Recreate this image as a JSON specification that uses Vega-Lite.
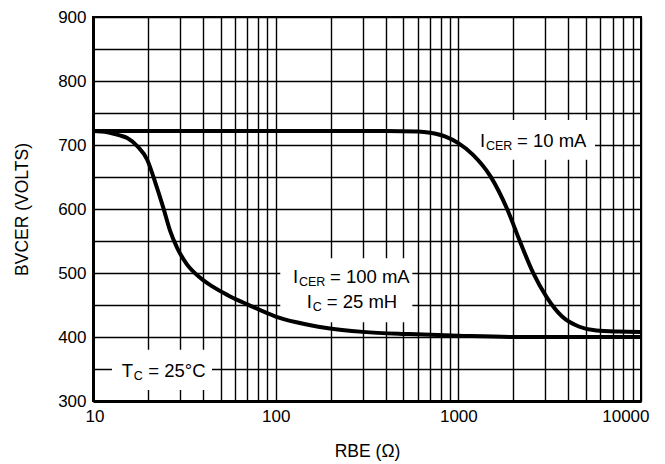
{
  "$schema": "https://vega.github.io/schema/vega-lite/v6.json",
  "width": 548,
  "height": 384,
  "autosize": {"type": "none"},
  "padding": {"left": 93, "top": 17, "right": 24, "bottom": 63},
  "background": "white",
  "config": {
    "view": {"stroke": "black", "strokeWidth": 2},
    "axis": {
      "grid": true, "gridColor": "black", "gridWidth": 1.4, "gridOpacity": 1,
      "ticks": false, "tickSize": 0,
      "domainColor": "black", "domainWidth": 3,
      "labelFont": "Liberation Sans", "labelFontSize": 17, "labelColor": "black",
      "labelPadding": 7, "labelOverlap": false,
      "titleFont": "Liberation Sans", "titleFontSize": 17.5, "titleFontWeight": "normal", "titleColor": "black"
    }
  },
  "datasets": {
    "curves": [
      {"series": "10 mA", "x": 10, "y": 722},
      {"series": "10 mA", "x": 100, "y": 722},
      {"series": "10 mA", "x": 400, "y": 722},
      {"series": "10 mA", "x": 600, "y": 721},
      {"series": "10 mA", "x": 700, "y": 719},
      {"series": "10 mA", "x": 850, "y": 713},
      {"series": "10 mA", "x": 1000, "y": 703},
      {"series": "10 mA", "x": 1200, "y": 685},
      {"series": "10 mA", "x": 1500, "y": 651},
      {"series": "10 mA", "x": 1850, "y": 600},
      {"series": "10 mA", "x": 2170, "y": 550},
      {"series": "10 mA", "x": 2560, "y": 501},
      {"series": "10 mA", "x": 3050, "y": 462},
      {"series": "10 mA", "x": 3700, "y": 432},
      {"series": "10 mA", "x": 4600, "y": 416},
      {"series": "10 mA", "x": 5700, "y": 410},
      {"series": "10 mA", "x": 7500, "y": 408.5},
      {"series": "10 mA", "x": 10000, "y": 408},
      {"series": "100 mA", "x": 10, "y": 722},
      {"series": "100 mA", "x": 12, "y": 720},
      {"series": "100 mA", "x": 14, "y": 715},
      {"series": "100 mA", "x": 15.4, "y": 711},
      {"series": "100 mA", "x": 17.5, "y": 698},
      {"series": "100 mA", "x": 19.8, "y": 677},
      {"series": "100 mA", "x": 22, "y": 640},
      {"series": "100 mA", "x": 24.2, "y": 603},
      {"series": "100 mA", "x": 26.5, "y": 565},
      {"series": "100 mA", "x": 28.8, "y": 540},
      {"series": "100 mA", "x": 32.6, "y": 514},
      {"series": "100 mA", "x": 38.5, "y": 493},
      {"series": "100 mA", "x": 45, "y": 479},
      {"series": "100 mA", "x": 55, "y": 465},
      {"series": "100 mA", "x": 70, "y": 451},
      {"series": "100 mA", "x": 100, "y": 432},
      {"series": "100 mA", "x": 130, "y": 423},
      {"series": "100 mA", "x": 190, "y": 414},
      {"series": "100 mA", "x": 300, "y": 408},
      {"series": "100 mA", "x": 543, "y": 404.5},
      {"series": "100 mA", "x": 1000, "y": 402},
      {"series": "100 mA", "x": 2000, "y": 400},
      {"series": "100 mA", "x": 10000, "y": 400}
    ],
    "boxes": [
      {"x": 1060, "xe": 5600, "y": 677, "ye": 739},
      {"x": 106, "xe": 560, "y": 423, "ye": 523},
      {"x": 12.7, "xe": 44.8, "y": 317, "ye": 380}
    ],
    "ann": [
      {"id": "a", "x": 1314, "y": 697, "p1": "I", "p2": "CER", "p3": "= 10 mA"},
      {"id": "b", "x": 124.4, "y": 484, "p1": "I", "p2": "CER", "p3": "= 100 mA"},
      {"id": "c", "x": 147.9, "y": 445, "p1": "I", "p2": "C", "p3": "= 25 mH"},
      {"id": "d", "x": 14.36, "y": 338, "p1": "T", "p2": "C", "p3": "= 25°C"}
    ]
  },
  "encoding": {
    "x": {
      "field": "x", "type": "quantitative",
      "scale": {"type": "log", "domain": [10, 10000], "nice": false},
      "axis": {
        "title": "RBE (Ω)",
        "values": [10, 20, 30, 40, 50, 60, 70, 80, 90, 100, 200, 300, 400, 500, 600, 700, 800, 900, 1000, 2000, 3000, 4000, 5000, 6000, 7000, 8000, 9000, 10000],
        "format": "d",
        "labelExpr": "(datum.value == 10 || datum.value == 100 || datum.value == 1000 || datum.value == 10000) ? datum.label : ''",
        "labelFlush": true, "labelFlushOffset": 8,
        "titleBaseline": "alphabetic", "titleY": 55
      }
    },
    "y": {
      "field": "y", "type": "quantitative",
      "scale": {"domain": [300, 900], "nice": false},
      "axis": {
        "title": "BVCER  (VOLTS)",
        "values": [300, 350, 400, 450, 500, 550, 600, 650, 700, 750, 800, 850, 900],
        "format": "d",
        "labelExpr": "datum.value % 100 == 0 ? datum.label : ''",
        "titleAngle": -90, "titleAlign": "center", "titleBaseline": "middle",
        "titleX": -71, "titleY": 192
      }
    }
  },
  "layer": [
    {
      "data": {"name": "boxes"},
      "mark": {"type": "rect", "fill": "white", "stroke": null},
      "encoding": {"x2": {"field": "xe"}, "y2": {"field": "ye"}}
    },
    {
      "data": {"name": "curves"},
      "mark": {"type": "line", "stroke": "black", "strokeWidth": 4, "interpolate": "monotone"},
      "encoding": {"detail": {"field": "series"}}
    },
    {
      "data": {"name": "ann"},
      "mark": {"type": "text", "align": "left", "baseline": "alphabetic", "font": "Liberation Sans", "fontSize": 18.5, "fill": "black"},
      "encoding": {"text": {"field": "p1"}}
    },
    {
      "data": {"name": "ann"},
      "transform": [{"filter": "datum.id != 'd'"}],
      "mark": {"type": "text", "align": "left", "baseline": "alphabetic", "dx": 6, "dy": 3, "font": "Liberation Sans", "fontSize": 12.5, "fill": "black"},
      "encoding": {"text": {"field": "p2"}}
    },
    {
      "data": {"name": "ann"},
      "transform": [{"filter": "datum.id == 'd'"}],
      "mark": {"type": "text", "align": "left", "baseline": "alphabetic", "dx": 12, "dy": 3, "font": "Liberation Sans", "fontSize": 12.5, "fill": "black"},
      "encoding": {"text": {"field": "p2"}}
    },
    {
      "data": {"name": "ann"},
      "transform": [{"filter": "datum.id == 'a' || datum.id == 'b'"}],
      "mark": {"type": "text", "align": "left", "baseline": "alphabetic", "dx": 37, "font": "Liberation Sans", "fontSize": 18.5, "fill": "black"},
      "encoding": {"text": {"field": "p3"}}
    },
    {
      "data": {"name": "ann"},
      "transform": [{"filter": "datum.id == 'c'"}],
      "mark": {"type": "text", "align": "left", "baseline": "alphabetic", "dx": 20, "font": "Liberation Sans", "fontSize": 18.5, "fill": "black"},
      "encoding": {"text": {"field": "p3"}}
    },
    {
      "data": {"name": "ann"},
      "transform": [{"filter": "datum.id == 'd'"}],
      "mark": {"type": "text", "align": "left", "baseline": "alphabetic", "dx": 26.5, "font": "Liberation Sans", "fontSize": 18.5, "fill": "black"},
      "encoding": {"text": {"field": "p3"}}
    }
  ]
}
